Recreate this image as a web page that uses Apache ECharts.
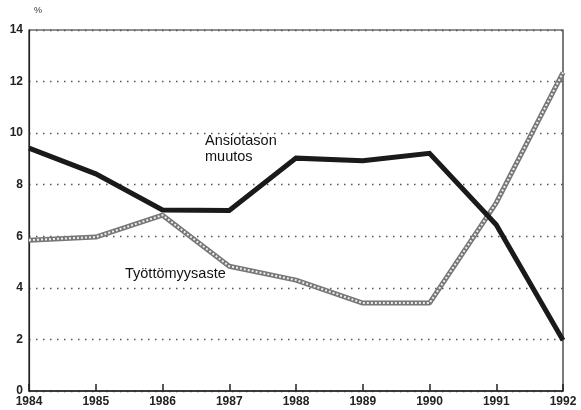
<!DOCTYPE html>
<html><head><meta charset="utf-8">
<script src="https://cdn.jsdelivr.net/npm/echarts@6/dist/echarts.min.js"></script>
<style>html,body{margin:0;padding:0;background:#fff}#c{width:581px;height:410px}</style>
</head><body><div id="c"></div>
<script>
const years = ['1984','1985','1986','1987','1988','1989','1990','1991','1992'];
const ansiotasonMuutos = [9.42, 8.42, 7.02, 7.0, 9.03, 8.93, 9.22, 6.45, 1.97];
const tyottomyysaste = [5.85, 5.97, 6.82, 4.84, 4.3, 3.41, 3.41, 7.3, 12.35];
const yTicks = [0, 2, 4, 6, 8, 10, 12, 14];

const chart = echarts.init(document.getElementById('c'), null, {renderer: 'canvas'});
const font = 'Liberation Sans, Arial, sans-serif';
chart.setOption({
  animation: false,
  backgroundColor: '#fff',
  grid: {left: 29, right: 18, top: 30, bottom: 19, show: true, borderColor: '#222', borderWidth: 1.2},
  xAxis: {
    type: 'category', data: years, boundaryGap: false,
    axisLine: {lineStyle: {color: '#222', width: 1.5}},
    axisTick: {show: true, inside: true, length: 7, lineStyle: {color: '#222', width: 1.5}},
    axisLabel: {color: '#222', fontFamily: font, fontSize: 12, fontWeight: 'bold', margin: 5, showMinLabel: true, showMaxLabel: true},
    splitLine: {show: false}
  },
  yAxis: {
    type: 'value', min: yTicks[0], max: yTicks[yTicks.length-1], interval: 2,
    axisLine: {show: true, lineStyle: {color: '#222', width: 1.2}},
    axisTick: {show: false},
    axisLabel: {color: '#222', fontFamily: font, fontSize: 12, fontWeight: 'bold', margin: 6},
    splitLine: {show: true, lineStyle: {color: '#555', type: [1.5, 5.5], width: 1.3}}
  },
  graphic: [
    {type: 'text', left: 34, top: 6, style: {text: '%', fontFamily: font, fontSize: 9, fill: '#333'}},
    {type: 'text', left: 205, top: 133, style: {text: 'Ansiotason\nmuutos', fontFamily: font, fontSize: 14.5, lineHeight: 16, fill: '#111'}},
    {type: 'text', left: 125, top: 266, style: {text: 'Työttömyysaste', fontFamily: font, fontSize: 14.5, fill: '#111'}}
  ],
  series: [
    {type: 'line', data: tyottomyysaste, symbol: 'none', z: 2,
     lineStyle: {color: '#777', width: 5}},
    {type: 'line', data: tyottomyysaste, symbol: 'none', z: 3,
     lineStyle: {color: '#eee', width: 2, type: [2, 2]}},
    {type: 'line', data: ansiotasonMuutos, symbol: 'none', z: 4,
     lineStyle: {color: '#1a1a1a', width: 5, join: 'miter'}}
  ]
});
</script></body></html>
